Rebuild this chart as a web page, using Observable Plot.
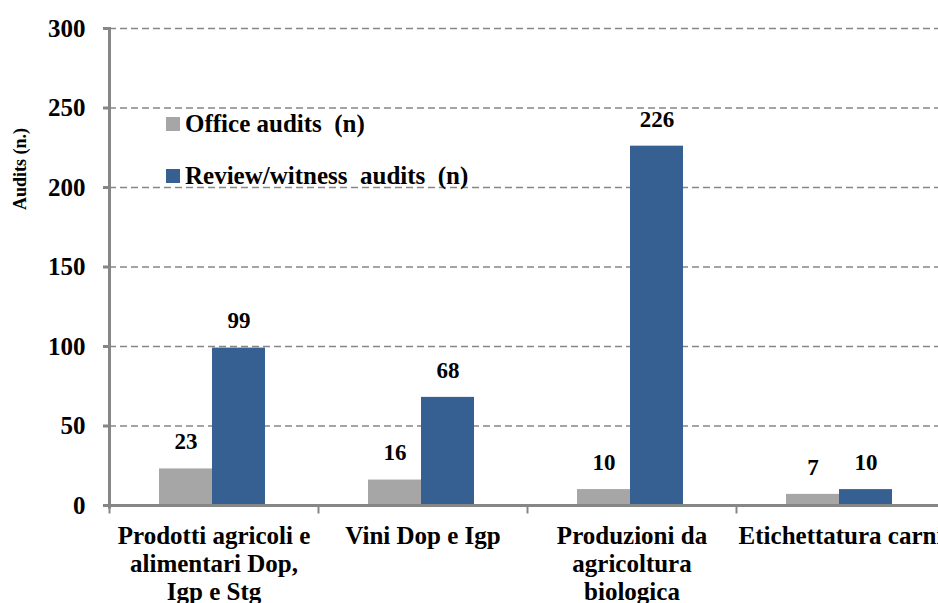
<!DOCTYPE html>
<html><head><meta charset="utf-8">
<script src="https://cdn.jsdelivr.net/npm/d3@7"></script>
<script src="https://cdn.jsdelivr.net/npm/@observablehq/plot@0.6"></script>
<style>
html,body{margin:0;padding:0;background:#fff;overflow:hidden;}
#wrap{position:relative;width:938px;height:603px;overflow:hidden;font-family:"Liberation Serif","Times New Roman",serif;font-weight:bold;color:#000;}
#ylabel{position:absolute;left:20px;top:169px;transform:translate(-50%,-50%) rotate(-90deg);font-size:18px;white-space:nowrap;}
.leg{position:absolute;left:166px;display:flex;align-items:center;font-size:25px;line-height:30px;white-space:pre;transform:translateY(-50%);}
.leg .sw{width:14px;height:14px;margin-right:5px;}
</style></head><body><div id="wrap"></div>
<script>
const categories = ["Prodotti agricoli e\nalimentari Dop,\nIgp e Stg", "Vini Dop e Igp", "Produzioni da\nagricoltura\nbiologica", "Etichettatura carni"];
const series = ["Office audits  (n)", "Review/witness  audits  (n)"];
const officeAudits = [23, 16, 10, 7];
const reviewAudits = [99, 68, 226, 10];
const yTicks = [0, 50, 100, 150, 200, 250, 300];
const colors = ["#a6a6a6", "#376092"];
const yTitle = "Audits (n.)";

const data = categories.flatMap((c, i) => [
  {cat: c, series: series[0], value: officeAudits[i]},
  {cat: c, series: series[1], value: reviewAudits[i]}
]);

const chart = Plot.plot({
  width: 946, height: 603,
  marginLeft: 107, marginRight: 0, marginTop: 28, marginBottom: 98,
  style: {fontFamily: "'Liberation Serif', 'Times New Roman', serif", fontWeight: "bold", color: "#000", overflow: "visible", maxWidth: "none", background: "transparent"},
  fx: {domain: categories, padding: 0, label: null},
  x: {domain: series, paddingInner: 0, paddingOuter: 0.96, axis: null},
  y: {domain: [0, 300], label: null},
  color: {domain: series, range: colors},
  marks: [
    Plot.ruleY(yTicks.filter(d => d > 0), {stroke: "#868686", strokeWidth: 1.3, strokeDasharray: "7,4"}),
    Plot.barY(data, {fx: "cat", x: "series", y: "value", fill: "series", dx: -2}),
    Plot.text(data, {fx: "cat", x: "series", y: "value", text: d => String(d.value), dy: -27, dx: -2, fontSize: 23, fontWeight: "bold", fill: "#000"}),
    Plot.ruleY([0], {stroke: "#868686", strokeWidth: 3}),
    Plot.frame({anchor: "left", facetAnchor: "left", stroke: "#868686", strokeWidth: 3, insetBottom: -1.5}),
    Plot.frame({anchor: "left", stroke: "#868686", strokeWidth: 2, insetTop: 477, insetBottom: -7}),
    Plot.axisY({ticks: yTicks, tickSize: 6, tickPadding: 18, stroke: "#868686", strokeWidth: 3, fontSize: 25, fill: "#000", label: null}),
    Plot.axisFx({anchor: "bottom", tickSize: 0, tickPadding: 19, fontSize: 25, lineHeight: 1.12, fill: "#000", label: null})
  ]
});

const wrap = document.getElementById("wrap");
wrap.appendChild(chart);

const yl = document.createElement("div");
yl.id = "ylabel";
yl.textContent = yTitle;
wrap.appendChild(yl);

const legCenters = [124, 176];
series.forEach((s, i) => {
  const d = document.createElement("div");
  d.className = "leg";
  d.style.top = legCenters[i] + "px";
  const sw = document.createElement("span");
  sw.className = "sw";
  sw.style.background = colors[i];
  const t = document.createElement("span");
  t.textContent = s;
  d.appendChild(sw);
  d.appendChild(t);
  wrap.appendChild(d);
});
</script>
</body></html>
